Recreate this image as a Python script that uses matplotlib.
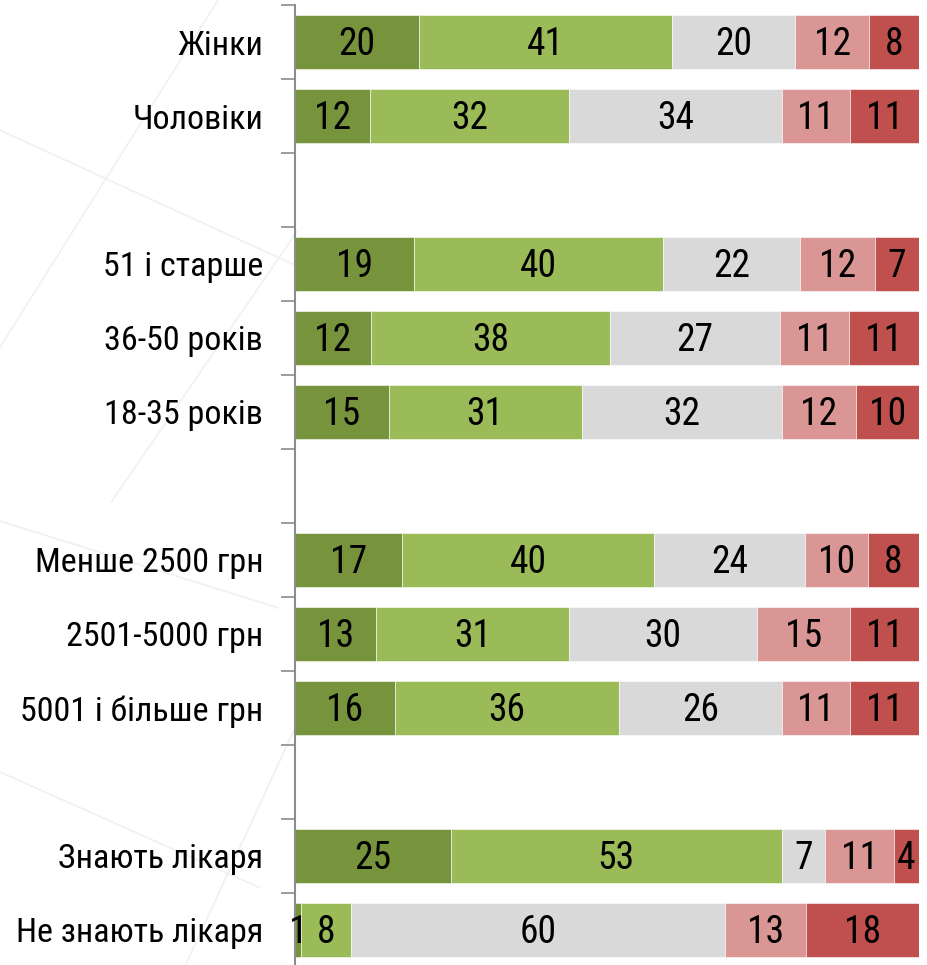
import numpy as np
import matplotlib
matplotlib.use('Agg')
import matplotlib.pyplot as plt
from matplotlib.lines import Line2D
from matplotlib import font_manager

# Data (rows top to bottom, '' = empty spacer row)
categories = ['Жінки', 'Чоловіки', '',
              '51 і старше', '36-50 років', '18-35 років', '',
              'Менше 2500 грн', '2501-5000 грн', '5001 і більше грн', '',
              'Знають лікаря', 'Не знають лікаря']
s1 = [20, 12, 0, 19, 12, 15, 0, 17, 13, 16, 0, 25, 1]
s2 = [41, 32, 0, 40, 38, 31, 0, 40, 31, 36, 0, 53, 8]
s3 = [20, 34, 0, 22, 27, 32, 0, 24, 30, 26, 0, 7, 60]
s4 = [12, 11, 0, 12, 11, 12, 0, 10, 15, 11, 0, 11, 13]
s5 = [8, 11, 0, 7, 11, 10, 0, 8, 11, 11, 0, 4, 18]
series = [s1, s2, s3, s4, s5]
colors = ['#77933C', '#9BBB59', '#D9D9D9', '#D99694', '#C0504D']

# look for a narrow font (the original uses Arial Narrow)
narrow = None
for key in ['liberationsansnarrow-regular', 'arialn', 'robotocondensed-regular',
            'dejavusanscondensed.ttf', 'notosans-condensed.ttf', 'opensans_condensed-regular']:
    for f in font_manager.fontManager.ttflist:
        if key in f.fname.lower().replace(' ', ''):
            narrow = f.fname
            break
    if narrow:
        break

if narrow:
    fp = font_manager.FontProperties(fname=narrow)
    num_size, lab_size = 27, 24.5
else:
    fp = font_manager.FontProperties(family=['Liberation Sans', 'DejaVu Sans'])
    num_size, lab_size = 24, 22

fig = plt.figure(figsize=(9.28, 9.65), dpi=100)

# faint decorative background lines
for (x0, y0, x1, y1) in [(0.0, 0.865, 0.33, 0.72), (0.235, 1.0, 0.0, 0.64),
                         (0.32, 0.76, 0.12, 0.48), (0.0, 0.46, 0.3, 0.37),
                         (0.0, 0.2, 0.28, 0.08), (0.2, 0.0, 0.32, 0.25)]:
    fig.add_artist(Line2D([x0, x1], [y0, y1], transform=fig.transFigure,
                          color='#F0F0F0', lw=1.2, zorder=0))

ax = fig.add_axes([0.318, -0.002, 0.672, 0.9968])
ax.patch.set_alpha(0)

vals = np.array(series, dtype=float)
tot = vals.sum(axis=0)
tot[tot == 0] = 1
pct = vals / tot * 100
y = np.arange(len(categories))
left = np.zeros(len(categories))
for k in range(len(series)):
    for i in range(len(categories)):
        if series[k][i] == 0:
            continue
        ax.barh(y[i], pct[k][i], left=left[i], height=0.72, color=colors[k],
                edgecolor='white', linewidth=0.4)
        ax.text(left[i] + pct[k][i] / 2, y[i] + 0.04, str(series[k][i]), ha='center',
                va='center', fontproperties=fp, fontsize=num_size, color='black')
    left += pct[k]

ax.set_xlim(0, 100)
ax.set_ylim(len(categories) - 0.5, -0.5)
ax.set_xticks([])
ax.set_yticks(np.arange(-0.5, len(categories), 1.0))
ax.set_yticklabels([])
ax.tick_params(axis='y', which='major', length=10, width=1.2, color='#8C8C8C', direction='out')
ax.set_yticks(y, minor=True)
ax.set_yticklabels(categories, minor=True)
for t in ax.get_yticklabels(minor=True):
    t.set_fontproperties(fp)
    t.set_fontsize(lab_size)
ax.tick_params(axis='y', which='minor', length=0, pad=23)
for s in ['top', 'right', 'bottom']:
    ax.spines[s].set_visible(False)
ax.spines['left'].set_color('#8C8C8C')
ax.spines['left'].set_linewidth(1.5)

fig.savefig('out.png', dpi=100)
